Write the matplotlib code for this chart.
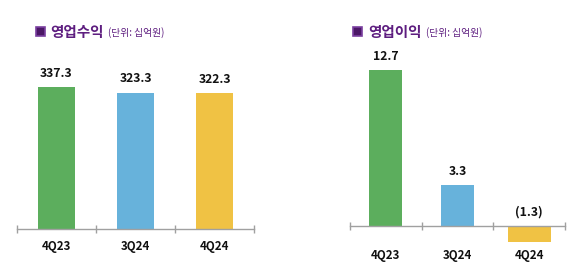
import matplotlib.pyplot as plt
from matplotlib.patches import Rectangle

plt.rcParams['font.family'] = ['Noto Sans CJK KR', 'DejaVu Sans']

quarters = ['4Q23', '3Q24', '4Q24']
revenue = [337.3, 323.3, 322.3]
revenue_labels = ['337.3', '323.3', '322.3']
profit = [12.7, 3.3, -1.3]
profit_labels = ['12.7', '3.3', '(1.3)']
bar_colors = ['#5CAE5D', '#67B2DB', '#F0C244']
purple = '#5E1E80'

W, H = 584, 267
fig = plt.figure(figsize=(W / 100, H / 100), dpi=100)


def px_axes(x0, x1, y_top, y_bottom):
    return fig.add_axes([x0 / W, 1 - y_bottom / H, (x1 - x0) / W, (y_bottom - y_top) / H])


def style(ax, ylim):
    ax.set_xlim(-0.5, 2.5)
    ax.set_ylim(*ylim)
    for s in ['left', 'right', 'top']:
        ax.spines[s].set_visible(False)
    ax.spines['bottom'].set_position(('data', 0))
    ax.spines['bottom'].set_color('#a0a0a0')
    ax.spines['bottom'].set_linewidth(1.0)
    ax.set_yticks([])
    ax.set_xticks([-0.5, 0.5, 1.5, 2.5])
    ax.set_xticklabels([])
    ax.tick_params(axis='x', direction='inout', length=6, color='#a0a0a0', width=1.0)
    ax.patch.set_alpha(0)


# left: revenue, baseline at y=229 px, 2.375 units per px
ax1 = px_axes(17, 254, 20, 229)
style(ax1, (0, 209 * 2.375))
ax1.bar(range(3), revenue, width=0.46, color=bar_colors)
for i, (v, lab) in enumerate(zip(revenue, revenue_labels)):
    ax1.annotate(lab, (i, v), xytext=(0, 10), textcoords='offset points',
                 ha='center', va='center', fontsize=8.8, fontweight='bold', color='#111111')
    ax1.annotate(quarters[i], (i, 0), xytext=(0, -12.5), textcoords='offset points',
                 ha='center', va='center', fontsize=8.3, fontweight='bold', color='#111111')

# right: operating profit, baseline at y=226 px, 12.28 px per unit
ax2 = px_axes(350, 565, 20, 250)
style(ax2, (-24 / 12.28, 206 / 12.28))
ax2.bar(range(3), profit, width=[0.46, 0.46, 0.6], color=bar_colors)
for i, (v, lab) in enumerate(zip(profit, profit_labels)):
    ax2.annotate(lab, (i, max(v, 0)), xytext=(0, 10), textcoords='offset points',
                 ha='center', va='center', fontsize=8.8, fontweight='bold', color='#111111')
    ax2.annotate(quarters[i], (i, 0), xytext=(0, -21), textcoords='offset points',
                 ha='center', va='center', fontsize=8.3, fontweight='bold', color='#111111')

# titles
for sx, tx, title, ux in [(36, 50, '영업수익', 108), (353, 368, '영업이익', 426)]:
    fig.patches.append(Rectangle((sx / W, 1 - 36 / H), 9 / W, 9 / H, transform=fig.transFigure,
                                 facecolor='#4B1766', edgecolor='#7A3FA0', linewidth=1.2))
    fig.text(tx / W, 1 - 32 / H, title, fontsize=10.5, fontweight='bold', color=purple,
             ha='left', va='center')
    fig.text(ux / W, 1 - 33 / H, '(단위: 십억원)', fontsize=7, color=purple,
             ha='left', va='center')

fig.savefig('out.png', dpi=100)
